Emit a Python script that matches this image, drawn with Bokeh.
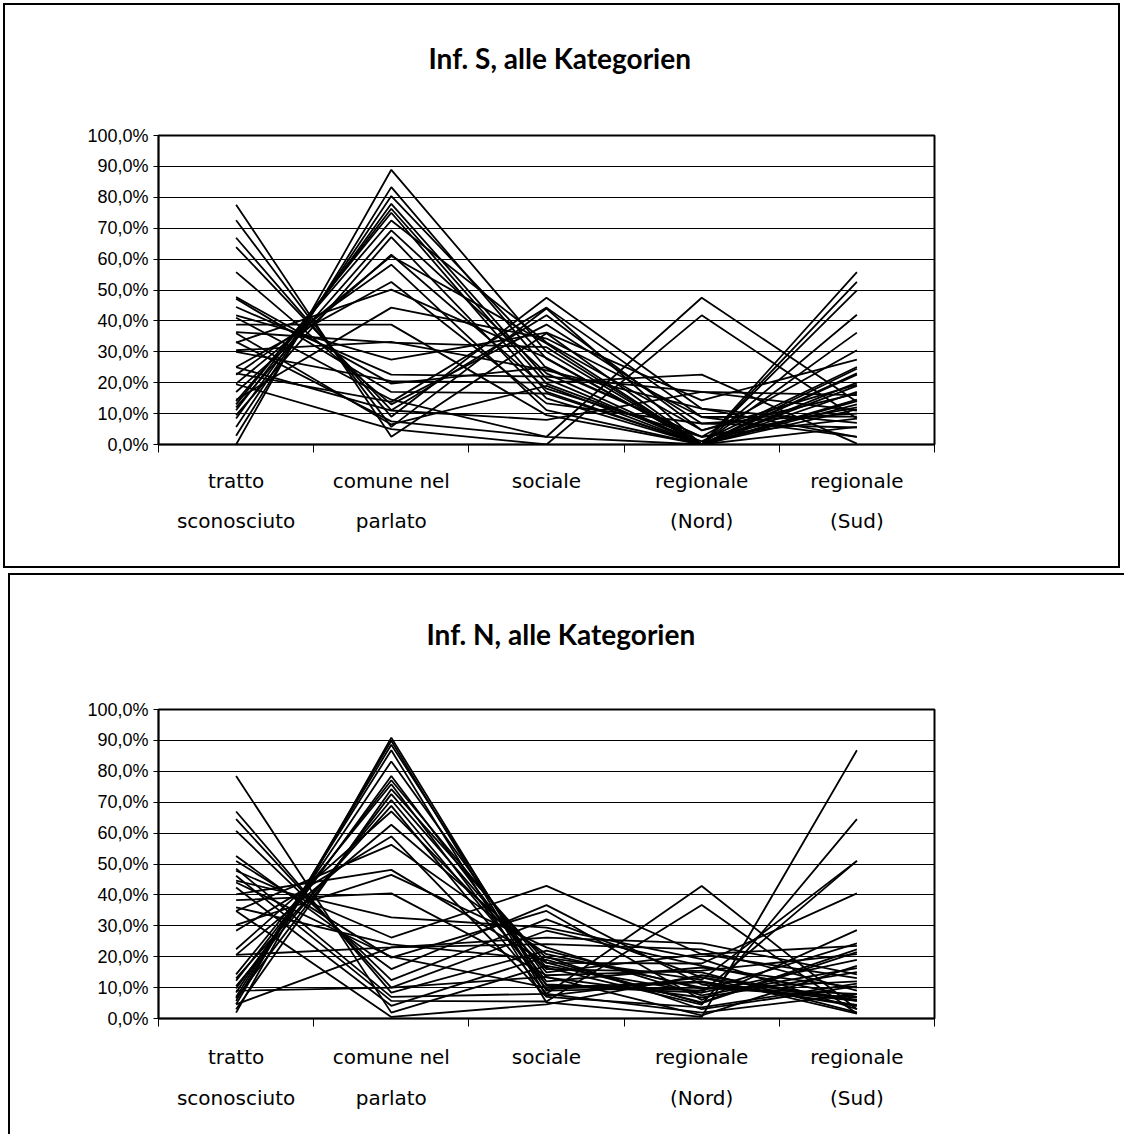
from bokeh.plotting import figure
from bokeh.layouts import column
from bokeh.models import Range1d, FixedTicker, LinearAxis, Title, InlineStyleSheet
from bokeh.embed import file_html
from bokeh.resources import INLINE

# ---------------- data ----------------
categories_line1 = ["tratto", "comune nel", "sociale", "regionale", "regionale"]
categories_line2 = ["sconosciuto", "parlato", "", "(Nord)", "(Sud)"]
y_ticks = [0, 10, 20, 30, 40, 50, 60, 70, 80, 90, 100]
y_tick_labels = ["0,0%", "10,0%", "20,0%", "30,0%", "40,0%", "50,0%",
                 "60,0%", "70,0%", "80,0%", "90,0%", "100,0%"]

# Inf. S (values in %), one entry per informant line
S_tratto = [0.0, 2.8, 5.7, 8.4, 11.1, 13.0, 14.0, 12.0, 9.5, 17.0, 19.7, 22.6, 25.1, 33.0, 14.5, 38.8, 30.5,
            36.4, 41.8, 44.5, 47.7, 47.2, 23.0, 55.8, 63.9, 66.9, 72.6, 77.6, 33.2, 19.5, 30.0, 25.0, 41.0, 36.0]
S_comune = [88.9, 83.3, 80.4, 77.9, 76.3, 75.0, 72.5, 69.3, 67.1, 61.4, 61.0, 58.2, 52.6, 50.1, 44.3, 38.8, 33.2,
            33.0, 27.5, 22.6, 19.7, 17.0, 13.8, 13.0, 11.1, 9.0, 5.7, 2.5, 7.5, 5.0, 20.5, 11.0, 14.5, 6.5]
S_sociale = [30.0, 24.6, 27.8, 21.3, 19.7, 17.0, 33.0, 23.0, 14.9, 18.1, 32.7, 11.1, 13.3, 28.0, 34.3, 9.5, 24.0,
             31.5, 36.2, 22.0, 25.0, 16.5, 44.3, 38.8, 41.8, 47.5, 44.0, 36.0, 2.5, 0.0, 20.0, 8.0, 2.5, 19.0]
S_nord = [0.0, 2.5, 0.0, 0.0, 1.0, 0.0, 4.6, 0.0, 0.0, 2.5, 0.0, 0.0, 6.8, 0.0, 8.9, 0.0, 11.6,
          0.0, 14.3, 17.0, 2.5, 0.0, 8.9, 6.8, 4.6, 11.6, 0.0, 0.0, 47.5, 41.8, 22.6, 17.0, 0.0, 0.0]
S_sud = [11.4, 8.4, 17.0, 22.6, 25.1, 14.0, 19.4, 5.7, 55.8, 30.5, 13.0, 52.6, 10.0, 49.9, 2.5, 36.2, 7.0,
         42.0, 27.5, 16.0, 12.0, 20.0, 9.0, 5.5, 16.5, 2.5, 14.5, 23.0, 13.8, 8.4, 0.3, 11.0, 19.0, 24.5]

# Inf. N (values in %)
N_tratto = [1.9, 4.6, 5.7, 7.0, 8.4, 9.7, 12.2, 14.3, 3.0, 6.5, 10.5, 13.0, 22.4, 20.6, 28.4, 34.8, 40.2, 30.3,
            38.3, 4.6, 20.6, 44.6, 47.8, 51.0, 52.6, 60.7, 64.5, 67.0, 78.5, 48.5, 46.2, 42.4, 34.8, 9.0, 36.0, 44.0]
N_comune = [90.9, 89.9, 88.6, 86.8, 83.2, 78.5, 77.1, 75.8, 74.2, 72.6, 70.7, 68.8, 67.0, 62.7, 58.9, 56.2, 48.1,
            46.5, 40.5, 23.0, 23.0, 32.7, 26.2, 19.7, 16.0, 12.4, 10.0, 8.4, 1.9, 7.0, 5.7, 4.1, 0.5, 10.0, 24.0, 20.0]
N_sociale = [9.0, 7.3, 10.6, 5.2, 13.3, 12.0, 16.5, 9.5, 18.1, 14.9, 11.0, 8.0, 16.0, 19.7, 7.0, 20.8, 18.0,
             23.0, 14.0, 24.1, 26.2, 29.4, 42.9, 34.8, 36.7, 32.1, 28.4, 22.0, 17.0, 8.0, 5.5, 20.0, 4.6, 13.5, 19.0, 10.0]
N_nord = [10.0, 13.3, 8.4, 0.5, 6.8, 16.5, 4.5, 11.7, 5.2, 20.8, 9.0, 1.9, 14.9, 12.5, 3.6, 10.0, 17.8,
          7.5, 15.5, 22.4, 24.3, 19.2, 20.8, 6.0, 11.0, 13.3, 17.0, 9.5, 8.4, 42.9, 36.7, 3.0, 14.0, 1.0, 5.0, 12.0]
N_sud = [8.0, 5.7, 51.0, 86.8, 15.0, 10.0, 64.5, 4.4, 22.4, 13.1, 24.3, 7.9, 2.0, 51.0, 11.3, 6.8, 40.5,
         16.3, 20.8, 9.0, 14.3, 3.0, 23.5, 28.6, 5.7, 1.6, 7.0, 12.0, 19.0, 3.0, 1.6, 10.5, 6.0, 17.0, 21.5, 4.0]

FONT = "Liberation Sans"
XFONT = "DejaVu Sans"
FIG_W = 1124
LEFT = 158


def box_css(left, top, width, height):
    return InlineStyleSheet(css=(
        ":host { position: relative; overflow: hidden; }"
        ":host::after { content: ''; position: absolute; "
        f"left: {left}px; top: {top}px; width: {width}px; height: {height}px; "
        "border: 2px solid black; box-sizing: border-box; pointer-events: none; z-index: 100; }"
    ))


def make_chart(title_text, cols, top, frame_h, height, spacer, title_offset, label_standoffs, css):
    n = len(cols[0])
    xs = [[i + 0.5 for i in range(len(cols))] for _ in range(n)]
    ys = [[c[k] for c in cols] for k in range(n)]

    right = FIG_W - LEFT - 776
    bottom = height - top - frame_h
    p = figure(frame_width=776, frame_height=frame_h,
               min_border_left=LEFT, min_border_right=right,
               min_border_top=top, min_border_bottom=bottom,
               x_range=Range1d(0, 5), y_range=Range1d(0, 100),
               x_axis_type=None, output_backend="svg", toolbar_location=None,
               background_fill_color="white", border_fill_color="white",
               outline_line_color="black", outline_line_width=2,
               stylesheets=[css])

    # spacer between frame and title, then the title itself
    p.add_layout(Title(text=" ", text_font_size="1px", standoff=spacer), "above")
    p.add_layout(Title(text=title_text, align="left", offset=title_offset,
                       vertical_align="bottom", standoff=0,
                       text_font="Lato", text_font_style="bold",
                       text_font_size="28px", text_color="black"), "above")

    # y axis
    ya = p.yaxis[0]
    ya.ticker = FixedTicker(ticks=y_ticks)
    ya.major_label_overrides = {v: s for v, s in zip(y_ticks, y_tick_labels)}
    ya.major_label_text_font = FONT
    ya.major_label_text_font_size = "18px"
    ya.major_label_text_color = "black"
    ya.major_tick_in = 0
    ya.major_tick_out = 5
    ya.minor_tick_line_color = None
    ya.major_label_standoff = 5
    ya.axis_line_color = "black"
    ya.axis_line_width = 1.5
    ya.major_tick_line_color = "black"

    p.ygrid.ticker = FixedTicker(ticks=y_ticks)
    p.ygrid.grid_line_color = "black"
    p.ygrid.grid_line_width = 1
    p.xgrid.visible = False

    # x axis: boundary ticks
    xa = LinearAxis(ticker=FixedTicker(ticks=[0, 1, 2, 3, 4, 5]),
                    major_label_overrides={i: "" for i in range(6)},
                    major_label_text_font_size="1px",
                    major_tick_in=0, major_tick_out=8, minor_tick_line_color=None,
                    major_label_standoff=0, axis_line_color="black", axis_line_width=1.5,
                    major_tick_line_color="black")
    p.add_layout(xa, "below")
    centers = [i + 0.5 for i in range(5)]
    for labels, standoff in zip((categories_line1, categories_line2), label_standoffs):
        ax = LinearAxis(ticker=FixedTicker(ticks=centers),
                        major_label_overrides={c: s for c, s in zip(centers, labels)},
                        major_label_text_font=XFONT, major_label_text_font_size="20px",
                        major_label_text_color="black",
                        major_tick_in=0, major_tick_out=0, minor_tick_line_color=None,
                        major_label_standoff=standoff, axis_line_color=None)
        p.add_layout(ax, "below")

    p.multi_line(xs, ys, line_color="black", line_width=1.8)
    return p


p1 = make_chart("Inf. S, alle Kategorien",
                [S_tratto, S_comune, S_sociale, S_nord, S_sud],
                top=135, frame_h=309, height=573, spacer=58, title_offset=270,
                label_standoffs=(16, 13), css=box_css(3, 3, 1117, 565))
p2 = make_chart("Inf. N, alle Kategorien",
                [N_tratto, N_comune, N_sociale, N_nord, N_sud],
                top=136, frame_h=309, height=561, spacer=56, title_offset=268,
                label_standoffs=(18, 14), css=box_css(8, 0, 1300, 800))

layout = column(p1, p2, spacing=0)
open("out.html", "w").write(file_html(layout, INLINE))
